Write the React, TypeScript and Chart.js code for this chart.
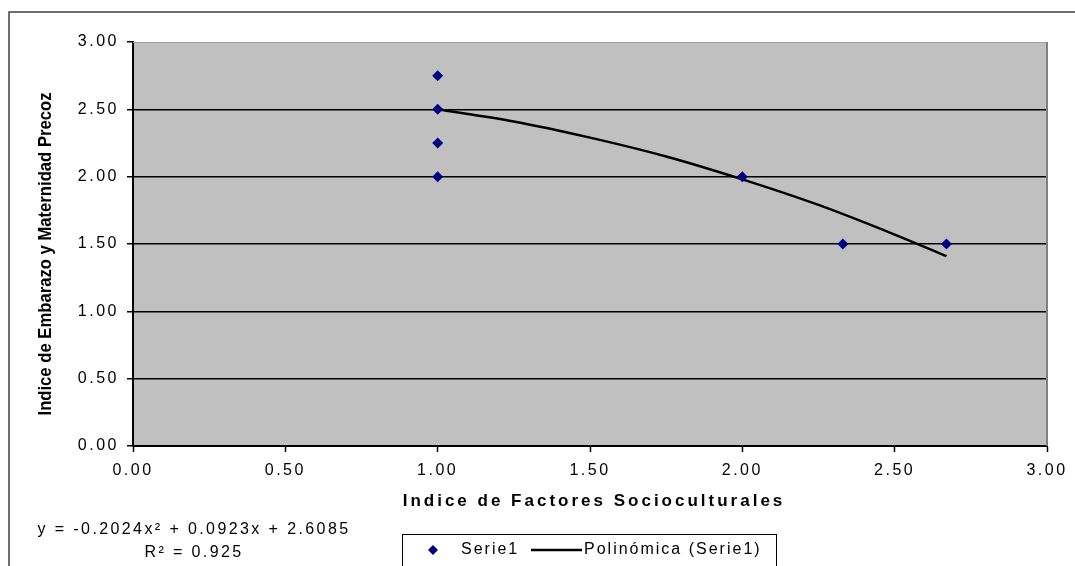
import React, { useEffect, useRef } from "react";
import { Chart, registerables } from "chart.js";

Chart.register(...registerables);

// Data
const pointsX = [1.0, 1.0, 1.0, 1.0, 2.0, 2.33, 2.67];
const pointsY = [2.75, 2.5, 2.25, 2.0, 2.0, 1.5, 1.5];
const trendX = [1.0, 1.25, 1.5, 1.75, 2.0, 2.25, 2.5, 2.67];
const trendY = [2.5, 2.41, 2.29, 2.15, 1.98, 1.79, 1.57, 1.41];
const axisMin = 0;
const axisMax = 3;
const axisStep = 0.5;
const xTitle = "Indice de Factores Socioculturales";
const yTitle = "Indice de Embarazo y Maternidad Precoz";
const equationText = "y = -0.2024x\u00B2 + 0.0923x + 2.6085";
const r2Text = "R\u00B2 = 0.925";
const seriesName = "Serie1";
const trendName = "Polinómica (Serie1)";

const FONT = "'Liberation Sans', Arial, sans-serif";

export default function App() {
  const ref = useRef<HTMLCanvasElement | null>(null);

  useEffect(() => {
    const canvas = ref.current;
    if (!canvas) return;

    const decor = {
      id: "decor",
      beforeDraw(chart: any) {
        const { ctx, chartArea } = chart;
        ctx.save();
        ctx.fillStyle = "#ffffff";
        ctx.fillRect(0, 0, chart.width, chart.height);
        // outer chart border
        ctx.strokeStyle = "#404040";
        ctx.lineWidth = 1.5;
        ctx.beginPath();
        ctx.moveTo(9, 600);
        ctx.lineTo(9, 12);
        ctx.lineTo(1080, 12);
        ctx.stroke();
        // plot area
        ctx.fillStyle = "#C0C0C0";
        ctx.fillRect(chartArea.left, chartArea.top, chartArea.right - chartArea.left, chartArea.bottom - chartArea.top);
        ctx.restore();
        (ctx as any).letterSpacing = "2.5px";
      },
      afterDraw(chart: any) {
        const { ctx, chartArea } = chart;
        ctx.save();
        // plot borders top/right
        ctx.strokeStyle = "#a0a0a0";
        ctx.lineWidth = 1;
        ctx.beginPath();
        ctx.moveTo(chartArea.left, chartArea.top + 0.5);
        ctx.lineTo(chartArea.right, chartArea.top + 0.5);
        ctx.stroke();
        ctx.strokeStyle = "#808080";
        ctx.lineWidth = 2;
        ctx.beginPath();
        ctx.moveTo(chartArea.right, chartArea.top);
        ctx.lineTo(chartArea.right, chartArea.bottom);
        ctx.stroke();

        ctx.fillStyle = "#000000";
        // x title
        (ctx as any).letterSpacing = "3px";
        ctx.font = "bold 17px " + FONT;
        ctx.textAlign = "center";
        ctx.textBaseline = "middle";
        ctx.fillText(xTitle, 594, 501);

        // y title (condensed bold)
        ctx.save();
        ctx.translate(46, 254);
        ctx.rotate(-Math.PI / 2);
        (ctx as any).letterSpacing = "0px";
        ctx.font = "bold 18px " + FONT;
        const w = ctx.measureText(yTitle).width;
        ctx.scale(323 / w, 1);
        ctx.fillText(yTitle, 0, 0);
        ctx.restore();

        // equation
        (ctx as any).letterSpacing = "2.4px";
        ctx.font = "16px " + FONT;
        ctx.textAlign = "center";
        ctx.fillText(equationText, 194, 530);
        ctx.fillText(r2Text, 194, 553);

        // legend
        ctx.strokeStyle = "#000000";
        ctx.lineWidth = 1;
        ctx.strokeRect(402.5, 534.5, 374, 80);
        ctx.fillStyle = "#000080";
        ctx.beginPath();
        ctx.moveTo(433, 545);
        ctx.lineTo(438, 550);
        ctx.lineTo(433, 555);
        ctx.lineTo(428, 550);
        ctx.closePath();
        ctx.fill();
        ctx.fillStyle = "#000000";
        ctx.textAlign = "left";
        (ctx as any).letterSpacing = "2px";
        ctx.fillText(seriesName, 461, 550);
        ctx.lineWidth = 2.5;
        ctx.beginPath();
        ctx.moveTo(531, 550);
        ctx.lineTo(582, 550);
        ctx.stroke();
        ctx.fillText(trendName, 584, 550);
        ctx.restore();
      },
    };

    const tickFont = { family: FONT, size: 16 };

    const chart = new Chart(canvas, {
      type: "scatter",
      data: {
        datasets: [
          {
            label: trendName,
            data: trendX.map((x, i) => ({ x, y: trendY[i] })),
            showLine: true,
            borderColor: "#000000",
            borderWidth: 2.5,
            pointRadius: 0,
            cubicInterpolationMode: "monotone",
            order: 1,
          } as any,
          {
            label: seriesName,
            data: pointsX.map((x, i) => ({ x, y: pointsY[i] })),
            backgroundColor: "#000080",
            borderColor: "#000080",
            pointStyle: "rectRot",
            pointRadius: 5.5,
            borderWidth: 0,
            order: 0,
          } as any,
        ],
      },
      options: {
        animation: false,
        responsive: false,
        events: [],
        layout: { padding: { top: 42, right: 28, left: 0, bottom: 0 } },
        plugins: { legend: { display: false }, tooltip: { enabled: false } },
        scales: {
          x: {
            type: "linear",
            min: axisMin,
            max: axisMax,
            afterFit(scale: any) {
              scale.height = 120;
            },
            ticks: {
              stepSize: axisStep,
              color: "#000000",
              font: tickFont,
              padding: 9,
              maxRotation: 0,
              callback: (v: any) => Number(v).toFixed(2),
            },
            grid: {
              drawOnChartArea: false,
              drawTicks: true,
              tickLength: 6,
              tickColor: "#000000",
              tickWidth: 1.5,
            },
            border: { display: true, color: "#000000", width: 2 },
          },
          y: {
            type: "linear",
            min: axisMin,
            max: axisMax,
            afterFit(scale: any) {
              scale.width = 133;
            },
            ticks: {
              stepSize: axisStep,
              color: "#000000",
              font: tickFont,
              padding: 8,
              callback: (v: any) => Number(v).toFixed(2),
            },
            grid: {
              color: (c: any) =>
                c.tick && (c.tick.value === axisMax || c.tick.value === axisMin) ? "rgba(0,0,0,0)" : "#000000",
              lineWidth: 1.5,
              drawTicks: true,
              tickLength: 6,
              tickColor: "#000000",
              tickWidth: 1.5,
            },
            border: { display: true, color: "#000000", width: 2 },
          },
        },
      } as any,
      plugins: [decor],
    });

    return () => chart.destroy();
  }, []);

  return (
    <div style={{ position: "fixed", left: 0, top: 0, width: 1075, height: 566, background: "#fff" }}>
      <canvas ref={ref} width={1075} height={566} style={{ display: "block" }} />
    </div>
  );
}
